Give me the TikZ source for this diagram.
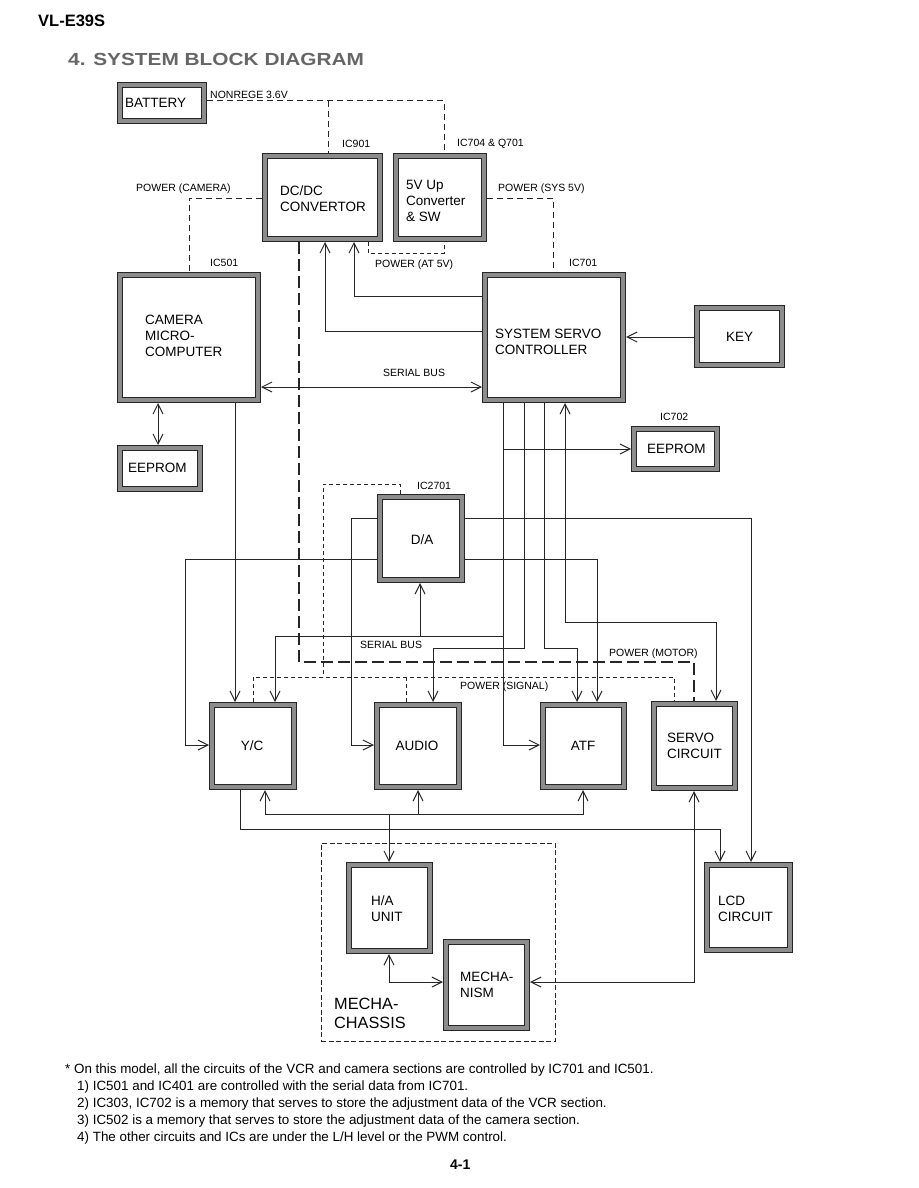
\documentclass[tikz,border=0pt]{standalone}
\usepackage{fontspec}
\setmainfont{Liberation Sans}
\usetikzlibrary{arrows.meta}
\newcommand\blk[5]{\node[box, minimum width={(#4-#2-6)*1pt}, minimum height={(#5-#3-6)*1pt}] (#1) at ({(#2+#4)/2},{(#3+#5)/2}) {};}
\begin{document}
\begin{tikzpicture}[x=1pt,y=-1pt,
  >={Straight Barb[length=10pt,width=10pt]},
  box/.style={draw=black!85, double=black!45, double distance=4.6pt, line width=0.7pt, fill=white, inner sep=0pt, outer sep=3pt},
  conn/.style={line width=1pt, black!85},
  pA/.style={line width=1pt, black!85, dash pattern=on 6pt off 4pt},
  pB/.style={line width=1pt, black!85, dash pattern=on 4pt off 3pt},
  pC/.style={line width=1.1pt, black!85, dash pattern=on 12pt off 5pt},
  pD/.style={line width=1pt, black!85, dash pattern=on 5pt off 2.5pt},
  bt/.style={font=\fontsize{13.5}{16}\selectfont, align=left, anchor=west, inner sep=0pt},
  lb/.style={font=\fontsize{10.5}{12}\selectfont, anchor=west, inner sep=0pt},
  fn/.style={font=\fontsize{13.4}{17}\selectfont, anchor=west, inner sep=0pt}]
\fill[white] (0,0) rectangle (918,1188);
\useasboundingbox (0,0) rectangle (918,1188);

% header
\node[anchor=west, inner sep=0pt, font=\bfseries\fontsize{16.5}{18}\selectfont] (hdr) at (38,21) {VL-E39S};
\node[anchor=west, inner sep=0pt, text=black!60, font=\bfseries\fontsize{17.5}{20}\selectfont] (title) at (68,59) {\scalebox{1.19}[1]{4. SYSTEM BLOCK DIAGRAM}};

% blocks
\blk{battery}{117}{82}{207}{124}
\blk{dcdc}{262}{153}{383}{242}
\blk{fivev}{393}{153}{487}{242}
\blk{camera}{117}{272}{261}{403}
\blk{servo}{482}{272}{626}{403}
\blk{key}{694}{305}{785}{368}
\blk{eepromA}{117}{445}{203}{492}
\blk{eepromB}{631}{426}{720}{472}
\blk{da}{377}{494}{465}{583}
\blk{yc}{209}{702}{297}{790}
\blk{audio}{374}{702}{462}{790}
\blk{atf}{540}{702}{627}{790}
\blk{servoc}{651}{701}{738}{791}
\blk{lcd}{704}{862}{793}{953}
\blk{ha}{346}{862}{433}{954}
\blk{mech}{443}{939}{530}{1031}
\node[pD, draw, minimum width=234pt, minimum height=198pt, inner sep=0pt] (chassis) at (438,942) {};

% block texts
\node[bt] (tbat) at (125,103) {BATTERY};
\node[bt] (tdcdc) at (280,198.5) {DC/DC\\CONVERTOR};
\node[bt] (tfivev) at (406,200.5) {5V Up\\Converter\\\& SW};
\node[bt] (tcam) at (145,336) {CAMERA\\MICRO-\\COMPUTER};
\node[bt] (tservo) at (495,342) {SYSTEM SERVO\\CONTROLLER};
\node[bt, anchor=center] (tkey) at (739.5,337) {KEY};
\node[bt] (teA) at (128,467.5) {EEPROM};
\node[bt] (teB) at (647,449) {EEPROM};
\node[bt, anchor=center] (tda) at (422,540) {D/A};
\node[bt, anchor=center] (tyc) at (252,746) {Y/C};
\node[bt, anchor=center] (taudio) at (417,746) {AUDIO};
\node[bt, anchor=center] (tatf) at (583,746) {ATF};
\node[bt] (tservoc) at (667,745.5) {SERVO\\CIRCUIT};
\node[bt] (tlcd) at (718,909) {LCD\\CIRCUIT};
\node[bt] (tha) at (371,909) {H/A\\UNIT};
\node[bt] (tmech) at (460,985) {MECHA-\\NISM};
\node[anchor=west, inner sep=0pt, align=left, font=\fontsize{16.3}{19.5}\selectfont] (tchassis) at (334,1013.5) {MECHA-\\CHASSIS};

% small labels
\node[lb] (lnon) at (210,95) {NONREGE 3.6V};
\node[lb] (l901) at (342,144) {IC901};
\node[lb] (l704) at (457,144) {IC704 \& Q701};
\node[lb] (lpcam) at (136,189) {POWER (CAMERA)};
\node[lb] (lpsys) at (498,189) {POWER (SYS 5V)};
\node[lb] (l501) at (210,263) {IC501};
\node[lb] (lat5) at (375,265) {POWER (AT 5V)};
\node[lb] (l701) at (569,263) {IC701};
\node[lb] (lsb1) at (383,373) {SERIAL BUS};
\node[lb] (l702) at (660,417) {IC702};
\node[lb] (l2701) at (417,486) {IC2701};
\node[lb] (lsb2) at (360,645) {SERIAL BUS};
\node[lb] (lmot) at (609,654) {POWER (MOTOR)};
\node[lb] (lsig) at (460,687) {POWER (SIGNAL)};

% power lines (dashed)
\draw[pA] (battery.east |- 0,101) -- (444,101) -- (fivev.north -| 444,0);
\draw[pA] (328,101) -- (dcdc.north -| 328,0);
\draw[pA] (dcdc.west |- 0,198) -| (camera.north -| 189,0);
\draw[pA] (fivev.east |- 0,198) -| (servo.north -| 553,0);
\draw[pB] (dcdc.south -| 368,0) |- (444,253) -- (fivev.south -| 444,0);
\draw[pC] (dcdc.south -| 299,0) |- (694,662) -- (servoc.north -| 694,0);
\draw[pB] (da.north -| 400,0) -- (400,484) -- (323,484) -- (323,677);
\draw[pB] (yc.north -| 253,0) |- (674,677) -- (servoc.north -| 674,0);
\draw[pB] (406,677) -- (audio.north -| 406,0);

% signal lines
\draw[conn,->] (servo.west |- 0,296) -| (dcdc.south -| 354,0);
\draw[conn,->] (servo.west |- 0,331) -| (dcdc.south -| 325,0);
\draw[conn,<->] (camera.east |- 0,387) -- (servo.west |- 0,387);
\draw[conn,->] (key.west |- 0,337) -- (servo.east |- 0,337);
\draw[conn,<->] (camera.south -| 158,0) -- (eepromA.north -| 158,0);
\draw[conn,->] (servo.south -| 503,0) |- (atf.west |- 0,745);
\draw[conn,->] (503,449) -- (eepromB.west |- 0,449);
\draw[conn,->] (503,636) -| (yc.north -| 275,0);
\draw[conn,->] (420,636) -- (da.south -| 420,0);
\draw[conn,->] (servo.south -| 524,0) |- (433,648) -- (audio.north -| 433,0);
\draw[conn,->] (servo.south -| 544,0) |- (577,648) -- (atf.north -| 577,0);
\draw[conn,<->] (servo.south -| 565,0) |- (716,622) -- (servoc.north -| 716,0);
\draw[conn,->] (da.east |- 0,559) -| (atf.north -| 597,0);
\draw[conn,->] (da.west |- 0,559) -| (185,745) -- (yc.west |- 0,745);
\draw[conn,->] (da.west |- 0,518) -| (351,745) -- (audio.west |- 0,745);
\draw[conn,->] (da.east |- 0,518) -| (lcd.north -| 751,0);
\draw[conn,->] (camera.south -| 235,0) -- (yc.north -| 235,0);
\draw[conn,<->] (yc.south -| 265,0) |- (583,814) -- (atf.south -| 583,0);
\draw[conn,->] (418,814) -- (audio.south -| 418,0);
\draw[conn,->] (389,814) -- (ha.north -| 389,0);
\draw[conn,->] (yc.south -| 240,0) |- (720,829) -- (lcd.north -| 720,0);
\draw[conn,<->] (mech.east |- 0,982) -| (servoc.south -| 694,0);
\draw[conn,<->] (ha.south -| 389,0) |- (mech.west |- 0,982);

% footnotes
\node[fn] (f0) at (65,1070) {* On this model, all the circuits of the VCR and camera sections are controlled by IC701 and IC501.};
\node[fn] (f1) at (77,1087) {1) IC501 and IC401 are controlled with the serial data from IC701.};
\node[fn] (f2) at (77,1104) {2) IC303, IC702 is a memory that serves to store the adjustment data of the VCR section.};
\node[fn] (f3) at (77,1121) {3) IC502 is a memory that serves to store the adjustment data of the camera section.};
\node[fn] (f4) at (77,1138) {4) The other circuits and ICs are under the L/H level or the PWM control.};
\node[anchor=west, inner sep=0pt, font=\bfseries\fontsize{14}{16}\selectfont] (pg) at (450,1165) {4-1};
\end{tikzpicture}
\end{document}
